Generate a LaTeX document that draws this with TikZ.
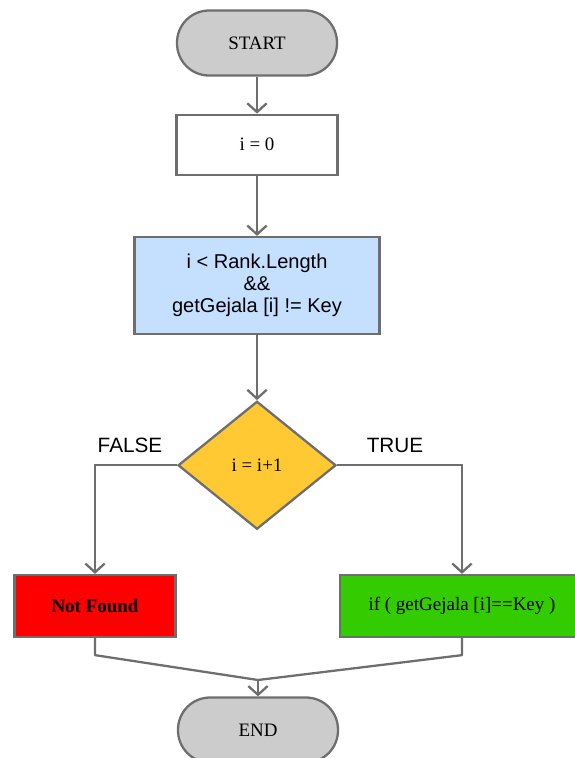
\documentclass[tikz,border=0pt]{standalone}
\usepackage{fontspec}
\setmainfont{Liberation Serif}
\newfontfamily\arialfont{Liberation Sans}
\usetikzlibrary{arrows.meta,shapes.geometric,positioning}
\definecolor{linegray}{RGB}{110,110,110}
\definecolor{termgray}{RGB}{204,204,204}
\definecolor{condblue}{RGB}{197,224,255}
\definecolor{decyellow}{RGB}{255,201,51}
\definecolor{nfred}{RGB}{255,0,0}
\definecolor{okgreen}{RGB}{51,204,0}
\tikzstyle{terminal}=[draw=linegray,line width=1.3pt,fill=termgray,rectangle,rounded corners=0.64cm,minimum width=3.2cm,minimum height=1.3cm,font=\fontsize{10.8}{13}\selectfont]
\tikzstyle{process}=[draw=linegray,line width=1.3pt,rectangle,minimum width=3.22cm,minimum height=1.2cm,font=\fontsize{10.8}{13}\selectfont]
\tikzstyle{decision}=[draw=linegray,line width=1.3pt,fill=decyellow,diamond,inner sep=0pt,minimum width=3.16cm,minimum height=2.56cm,font=\fontsize{10.8}{13}\selectfont]
\tikzstyle{flow}=[draw=linegray,line width=1.3pt,-{Straight Barb[length=5pt,width=11pt]}]
\tikzstyle{branchlabel}=[font=\arialfont\fontsize{11.8}{14}\selectfont]

\begin{document}
\begin{tikzpicture}[x=0.02cm,y=-0.02cm]
  \useasboundingbox (0,0) rectangle (575,758);
  \clip (0,0) rectangle (575,758);
  \node[terminal]                (start) at (257,43) {START};
  \node[process]                 (init)  [below=0.74cm of start] {i = 0};
  \node[process,fill=condblue,minimum width=4.9cm,minimum height=1.94cm,align=center,
        font=\arialfont\fontsize{11.4}{12.4}\selectfont]
                                 (cond)  [below=1.2cm of init] {i < Rank.Length\\\&\&\\getGejala [i] != Key};
  \node[decision]                (dec)   [below=1.3cm of cond] {i = i+1};
  \node[process,fill=nfred,minimum height=1.24cm,font=\bfseries\fontsize{10.8}{13}\selectfont]
                                 (nf)    at (95,606) {Not Found};
  \node[process,fill=okgreen,minimum width=4.88cm,minimum height=1.24cm]
                                 (found) at (462,606) {if ( getGejala [i]==Key )};
  \node[terminal]                (end)   at (258,730) {END};
  \coordinate (join) at (258,680);

  \node[branchlabel] (lfalse) at (130,445) {FALSE};
  \node[branchlabel] (ltrue)  at (395,445) {TRUE};

  \path[flow] (start) -- (init);
  \path[flow] (init)  -- (cond);
  \path[flow] (cond)  -- (dec);
  \path[flow] (dec.west) -| (nf.north);
  \path[flow] (dec.east) -| (found.north);
  \draw[draw=linegray,line width=1.3pt,line join=round]
        (nf.south) -- ++(0,17) -- (join) -- ++(0,0.5)
        (found.south) -- ++(0,17) -- (join);
  \path[flow] (join) -- (end);
\end{tikzpicture}
\end{document}
